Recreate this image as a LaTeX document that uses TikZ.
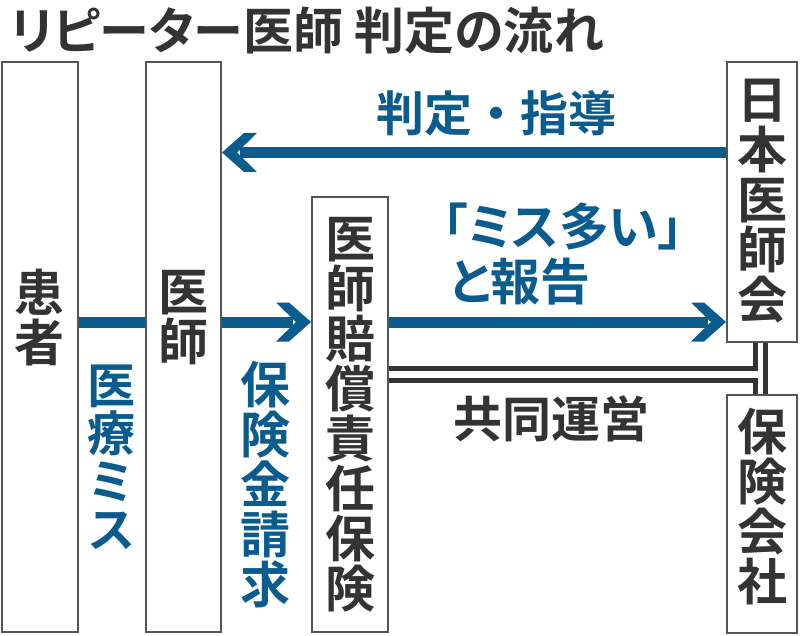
\documentclass[tikz,border=0pt]{standalone}
\usepackage{fontspec}
\newfontfamily\jp{Noto Sans CJK JP}[BoldFont={Noto Sans CJK JP Bold}]
\newfontfamily\jpp{Noto Sans CJK JP Bold}[RawFeature=+palt]
\definecolor{ink}{HTML}{333333}
\definecolor{boxgray}{HTML}{555555}
\definecolor{flowblue}{HTML}{0A5C8F}
\pgfdeclarearrow{
  name = Chev,
  setup code = {
    \pgfarrowssettipend{0pt}
    \pgfarrowssetbackend{-35pt}
    \pgfarrowssetlineend{-18pt}
    \pgfarrowssetvisualbackend{-18pt}
    \pgfarrowsupperhullpoint{-35pt}{19.5pt}
    \pgfarrowsupperhullpoint{0pt}{0pt}
  },
  drawing code = {
    \pgfpathmoveto{\pgfpoint{0pt}{0pt}}
    \pgfpathlineto{\pgfpoint{-22pt}{19.5pt}}
    \pgfpathlineto{\pgfpoint{-35pt}{19.5pt}}
    \pgfpathlineto{\pgfpoint{-15pt}{0pt}}
    \pgfpathlineto{\pgfpoint{-35pt}{-19.5pt}}
    \pgfpathlineto{\pgfpoint{-22pt}{-19.5pt}}
    \pgfpathclose
    \pgfusepathqfill
  }
}
\begin{document}
\begin{tikzpicture}[x=1pt,y=-1pt,
  box/.style={draw=boxgray, line width=2pt, fill=white, inner sep=0pt},
  boxtext/.style={text=ink, align=center, inner sep=0pt, font=\jp\bfseries\fontsize{50}{50}\selectfont},
  bluetext/.style={text=flowblue, inner sep=0pt, font=\jp\bfseries\fontsize{48}{48}\selectfont},
  flow/.style={draw=flowblue, fill=flowblue, line width=11pt},
  joint/.style={draw=ink, line width=5pt},
  arrowtip/.style={-Chev}
]
\useasboundingbox (0,0) rectangle (800,636);
\fill[white] (0,0) rectangle (800,636);
% title
\node[anchor=west, text=ink, inner sep=0pt, font=\jpp\fontsize{50}{50}\selectfont] (title) at (10,31) {リピーター医師 判定の流れ};
% boxes
\node[box, minimum width=76pt, minimum height=570pt] (pat) at (40,347) {};
\node[box, minimum width=75pt, minimum height=570pt] (doc) at (183.5,347) {};
\node[box, minimum width=76pt, minimum height=435pt] (ins) at (350,414.5) {};
\node[box, minimum width=70pt, minimum height=280pt] (jma) at (762,202) {};
\node[box, minimum width=70pt, minimum height=238pt] (ins2) at (762,514) {};
% box texts
\node[boxtext] (tpat) at (39,318) {患\\者};
\node[boxtext] (tdoc) at (183,318) {医\\師};
\node[boxtext] (tins) at (350,415) {医\\師\\賠\\償\\責\\任\\保\\険};
\node[boxtext] (tjma) at (762,201) {日\\本\\医\\師\\会};
\node[boxtext] (tins2) at (762,507) {保\\険\\会\\社};
% flows
\draw[flow] (pat.east |- 0,322) -- (doc.west |- 0,322);
\draw[flow, arrowtip] (doc.east |- 0,322) -- (ins.west |- 0,322);
\draw[flow, arrowtip] (ins.east |- 0,322) -- (jma.west |- 0,322);
\draw[flow, arrowtip] (jma.west |- 0,152.5) -- (doc.east |- 0,152.5);
% joint operation lines
\draw[joint] (ins.east |- 0,368.5) -| ([xshift=-6.5pt]jma.south);
\draw[joint] (ins.east |- 0,380) -| ([xshift=-6.5pt]ins2.north);
\draw[joint] ([xshift=3.5pt]jma.south) -- ([xshift=3.5pt]ins2.north);
% blue labels
\node[bluetext] (ljudge) at (496,113) {判定・指導};
\node[bluetext, font=\jpp\fontsize{50}{50}\selectfont] (lrep1) at (563,226) {「ミス多い」};
\node[bluetext, anchor=west, font=\jpp\fontsize{50}{50}\selectfont] (lrep2) at (449,282) {と報告};
\node[bluetext, align=center] (lmiss) at (111.5,457) {医\\療\\ミ\\ス};
\node[bluetext, align=center, font=\jp\bfseries\fontsize{50}{50}\selectfont] (lclaim) at (265,485) {保\\険\\金\\請\\求};
% joint label
\node[text=ink, inner sep=0pt, font=\jp\bfseries\fontsize{49}{49}\selectfont] (ljoint) at (551,419) {共同運営};
\end{tikzpicture}
\end{document}
